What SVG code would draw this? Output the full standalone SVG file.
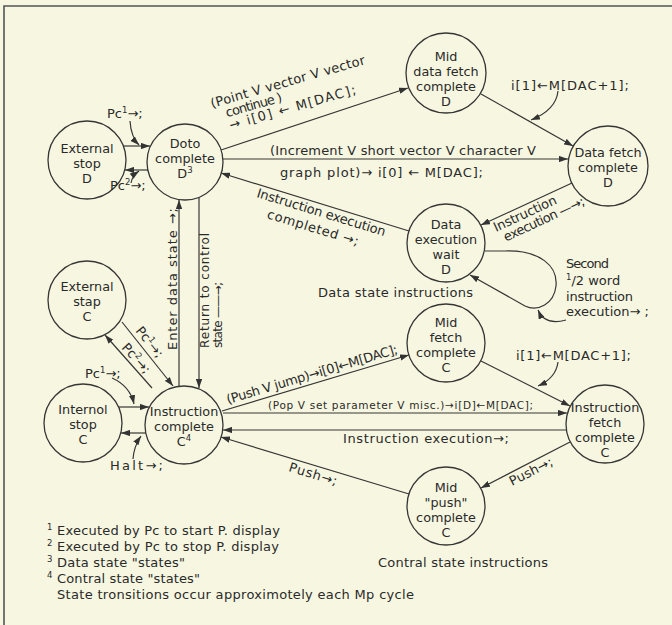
<svg xmlns="http://www.w3.org/2000/svg" width="672" height="625" viewBox="0 0 672 625">
<defs>
<marker id="ah" viewBox="0 0 10 7" refX="10" refY="3.5" markerWidth="9" markerHeight="6.3" markerUnits="userSpaceOnUse" orient="auto"><path d="M0,0 L10,3.5 L0,7 z" fill="#333"/></marker>
<style>
text{font-family:"DejaVu Sans","Liberation Sans",Arial,sans-serif;font-size:13px;fill:#2a2a2a}
.nt{text-anchor:middle;font-size:12.8px}
.s{font-size:10.5px}
.f{font-size:13px}
.r{font-size:12px}
.sup{font-size:8.5px}
circle{fill:none;stroke:#363636;stroke-width:1.3}
.c path,.c line{stroke:#363636;stroke-width:1.2;fill:none}
.a{marker-end:url(#ah)}
</style>
</defs>
<rect x="0" y="0" width="672" height="625" fill="#f7f7e1"/>
<path d="M4,625 L4,6 L672,6" fill="none" stroke="#555" stroke-width="1.6"/>

<g class="c" id="connectors">
<line class="a" x1="124" y1="146" x2="150" y2="146"/>
<line class="a" x1="148" y1="170" x2="125" y2="170"/>
<path class="a" d="M130,121 Q131,137 139,145"/>
<path class="a" d="M131,183 Q132,176 139,171"/>
<line class="a" x1="179" y1="386" x2="179" y2="200"/>
<line class="a" x1="199" y1="198" x2="199" y2="388"/>
<line class="a" x1="221" y1="150" x2="408" y2="88"/>
<line class="a" x1="223" y1="159" x2="568" y2="159"/>
<line class="a" x1="481" y1="94" x2="573" y2="146"/>
<path class="a" d="M558,91 Q556,110 531,120"/>
<line class="a" x1="572" y1="183" x2="481" y2="225"/>
<line class="a" x1="409" y1="231" x2="221" y2="173"/>
<path class="a" d="M485,251 L505,251 C540,250 558,266 556,286 C554,304 538,312 525,306 L470,275"/>
<path class="a" d="M566,320 Q545,326 538,310"/>
<line class="a" x1="122" y1="322" x2="173" y2="386"/>
<line class="a" x1="152" y1="388" x2="105" y2="335"/>
<line class="a" x1="119" y1="407" x2="149" y2="407"/>
<line class="a" x1="146" y1="433" x2="121" y2="433"/>
<path class="a" d="M112,378 Q130,386 134,404"/>
<path class="a" d="M133,459 Q134,446 141,436"/>
<line class="a" x1="222" y1="411" x2="409" y2="355"/>
<line class="a" x1="223" y1="413" x2="567" y2="413"/>
<line class="a" x1="567" y1="430" x2="223" y2="430"/>
<line class="a" x1="409" y1="494" x2="221" y2="437"/>
<line class="a" x1="570" y1="442" x2="481" y2="488"/>
<line class="a" x1="481" y1="361" x2="570" y2="406"/>
<path class="a" d="M558,362 Q556,378 538,386"/>
</g>

<g id="extD"><circle cx="87" cy="160" r="39"/><text class="nt" x="87" y="153">External</text><text class="nt" x="87" y="168">stop</text><text class="nt" x="87" y="183">D</text></g>
<g id="dataC"><circle cx="185" cy="162" r="38"/><text class="nt" x="185" y="148">Doto</text><text class="nt" x="185" y="163">complete</text><text class="nt" x="185" y="178">D<tspan class="sup" dy="-5">3</tspan></text></g>
<g id="midDF"><circle cx="446" cy="73" r="40"/><text class="nt" x="446" y="61">Mid</text><text class="nt" x="446" y="76">data fetch</text><text class="nt" x="446" y="91">complete</text><text class="nt" x="446" y="106">D</text></g>
<g id="dataF"><circle cx="608" cy="166" r="40"/><text class="nt" x="608" y="157">Data fetch</text><text class="nt" x="608" y="172">complete</text><text class="nt" x="608" y="187">D</text></g>
<g id="dataEW"><circle cx="446" cy="243" r="39"/><text class="nt" x="446" y="229">Data</text><text class="nt" x="446" y="244">execution</text><text class="nt" x="446" y="259">wait</text><text class="nt" x="446" y="274">D</text></g>
<g id="extC"><circle cx="87" cy="300" r="39"/><text class="nt" x="87" y="291">External</text><text class="nt" x="87" y="306">stap</text><text class="nt" x="87" y="321">C</text></g>
<g id="intC"><circle cx="83" cy="423" r="39"/><text class="nt" x="83" y="414">Internol</text><text class="nt" x="83" y="429">stop</text><text class="nt" x="83" y="444">C</text></g>
<g id="instrC"><circle cx="184" cy="425" r="39"/><text class="nt" x="184" y="416">Instruction</text><text class="nt" x="184" y="431">complete</text><text class="nt" x="184" y="446">C<tspan class="sup" dy="-5">4</tspan></text></g>
<g id="midFC"><circle cx="446" cy="343" r="39"/><text class="nt" x="446" y="327">Mid</text><text class="nt" x="446" y="342">fetch</text><text class="nt" x="446" y="357">complete</text><text class="nt" x="446" y="372">C</text></g>
<g id="instrF"><circle cx="605" cy="424" r="39"/><text class="nt" x="605" y="412">Instruction</text><text class="nt" x="605" y="427">fetch</text><text class="nt" x="605" y="442">complete</text><text class="nt" x="605" y="457">C</text></g>
<g id="midPush"><circle cx="446" cy="506" r="39"/><text class="nt" x="446" y="492">Mid</text><text class="nt" x="446" y="507">"push"</text><text class="nt" x="446" y="522">complete</text><text class="nt" x="446" y="537">C</text></g>

<g id="labels">
<text x="107" y="118">Pc<tspan class="sup" dy="-5">1</tspan><tspan dy="5">→;</tspan></text>
<text x="110" y="190">Pc<tspan class="sup" dy="-5">2</tspan><tspan dy="5">→;</tspan></text>
<text x="85" y="378">Pc<tspan class="sup" dy="-5">1</tspan><tspan dy="5">→;</tspan></text>
<text x="110" y="470" textLength="53">Halt→;</text>
<text transform="translate(135,331) rotate(51)">Pc<tspan class="sup" dy="-5">1</tspan><tspan dy="5">→;</tspan></text>
<text transform="translate(121,348) rotate(48)">Pc<tspan class="sup" dy="-5">2</tspan><tspan dy="5">→;</tspan></text>
<text transform="translate(177,350) rotate(-90)" textLength="142">Enter data state →;</text>
<text class="r" transform="translate(209,348) rotate(-90)" textLength="115">Return to control</text>
<text class="r" transform="translate(222,348) rotate(-90)" textLength="66">state ——→;</text>
<g transform="translate(212,108) rotate(-16)">
<text x="0" y="0" textLength="160">(Point V vector V vector</text>
<text x="12" y="13" textLength="58">continue )</text>
<text x="12" y="26" textLength="131">→ i[0] ← M[DAC];</text>
</g>
<text x="270" y="155" textLength="266">(Increment V short vector V character V</text>
<text x="280" y="177" textLength="203">graph plot)→ i[0] ← M[DAC];</text>
<text x="511" y="90" textLength="118">i[1]←M[DAC+1];</text>
<g transform="translate(256,197) rotate(17)">
<text x="0" y="0" textLength="134">Instruction execution</text>
<text x="16" y="17" textLength="95">completed →;</text>
</g>
<g transform="translate(496,232) rotate(-25)">
<text x="0" y="0" textLength="68">Instruction</text>
<text x="5" y="13" textLength="88">execution —→;</text>
</g>
<text x="566" y="268" textLength="43">Second</text>
<text x="566" y="285"><tspan class="sup" dy="-5">1</tspan><tspan dy="5">/2 word</tspan></text>
<text x="566" y="301" textLength="67">instruction</text>
<text x="566" y="316" textLength="83">execution→ ;</text>
<text x="318" y="297" textLength="155">Data state instructions</text>
<text x="516" y="360" textLength="115">i[1]←M[DAC+1];</text>
<text transform="translate(228,404) rotate(-16.6)" textLength="178">(Push V jump)→i[0]←M[DAC];</text>
<text class="s" x="268" y="409" textLength="265">(Pop V set parameter V misc.)→i[D]←M[DAC];</text>
<text x="343" y="443" textLength="166">Instruction execution→;</text>
<text transform="translate(288,471) rotate(17)" textLength="50">Push→;</text>
<text transform="translate(512,486) rotate(-27)" textLength="47">Push→;</text>
<text x="378" y="567" textLength="170">Contral state instructions</text>
</g>

<g id="footnotes">
<text class="sup" x="47" y="530">1</text><text class="f" x="57" y="535" textLength="223">Executed by Pc to start P. display</text>
<text class="sup" x="47" y="546">2</text><text class="f" x="57" y="551" textLength="222">Executed by Pc to stop P. display</text>
<text class="sup" x="47" y="562">3</text><text class="f" x="57" y="567" textLength="128">Data state "states"</text>
<text class="sup" x="47" y="578">4</text><text class="f" x="57" y="583" textLength="143">Contral state "states"</text>
<text class="f" x="57" y="599" textLength="357">State tronsitions occur approximotely each Mp cycle</text>
</g>
</svg>
